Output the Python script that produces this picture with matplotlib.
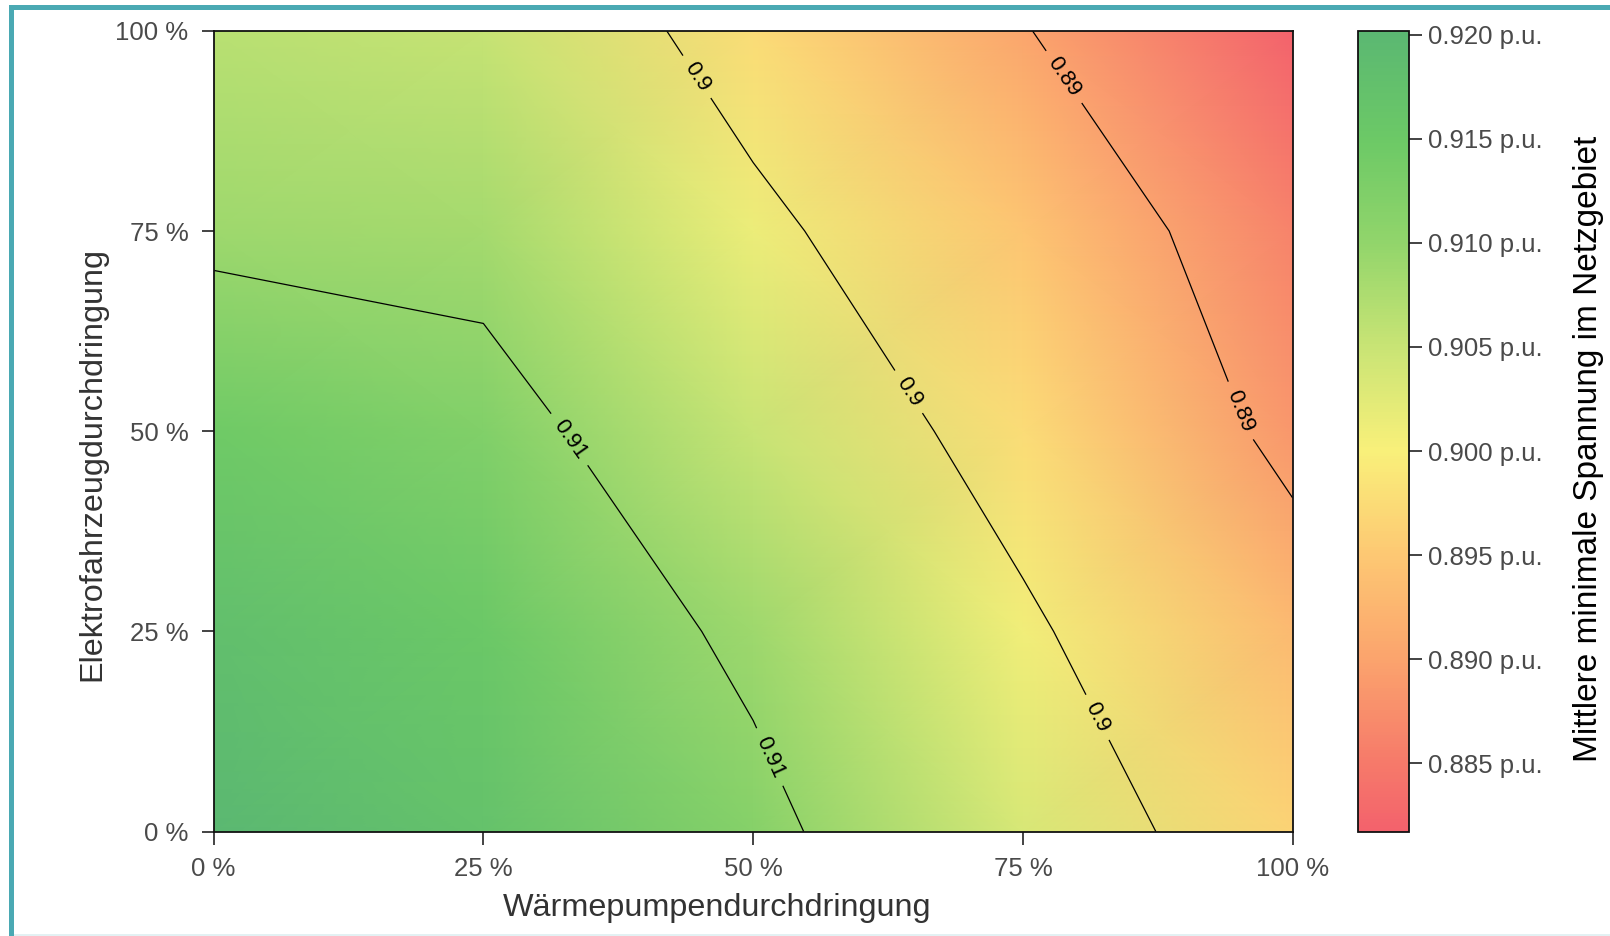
import numpy as np
import matplotlib
matplotlib.use("Agg")
import matplotlib.pyplot as plt
from matplotlib.colors import LinearSegmentedColormap, Normalize
from matplotlib.patches import Rectangle

# ---- data ----
hp_pen = [0, 25, 50, 75, 100]          # Wärmepumpendurchdringung (%)
ev_pen = [0, 25, 50, 75, 100]          # Elektrofahrzeugdurchdringung (%)
v_ev0 = [0.9200, 0.9170, 0.9115, 0.9035, 0.8964]
v_ev25 = [0.9180, 0.9151, 0.9088, 0.9009, 0.8930]
v_ev50 = [0.9145, 0.9121, 0.9051, 0.8975, 0.8885]
v_ev75 = [0.9089, 0.9082, 0.9013, 0.8945, 0.8862]
v_ev100 = [0.9065, 0.9053, 0.8975, 0.8903, 0.8818]
contour_levels = [0.89, 0.90, 0.91]
cbar_ticks = [0.885, 0.890, 0.895, 0.900, 0.905, 0.910, 0.915, 0.920]
x_ticks = [0, 25, 50, 75, 100]
y_ticks = [0, 25, 50, 75, 100]

plt.rcParams['font.family'] = ['Liberation Sans', 'DejaVu Sans']

Z = np.array([v_ev0, v_ev25, v_ev50, v_ev75, v_ev100])
X, Y = np.meshgrid(hp_pen, ev_pen)

vmin, vmax = 0.8817, 0.9202
stops = [(0.8817, '#f3626c'), (0.885, '#f67a6a'), (0.890, '#fba46d'),
         (0.895, '#fdc873'), (0.900, '#f9f07a'), (0.905, '#c9e475'),
         (0.910, '#92d56b'), (0.915, '#6cc966'), (0.9202, '#5bb872')]
cmap = LinearSegmentedColormap.from_list(
    'volt', [((v - vmin) / (vmax - vmin), c) for v, c in stops])
norm = Normalize(vmin=vmin, vmax=vmax)

W, H = 1610, 936
fig = plt.figure(figsize=(W / 100, H / 100), dpi=100)
fig.patch.set_facecolor('white')

ax = fig.add_axes([213.6 / W, 1 - 831.7 / H, (1292.7 - 213.6) / W, (831.7 - 30.8) / H])
cax = fig.add_axes([1357.5 / W, 1 - 831.7 / H, (1408.5 - 1357.5) / W, (831.7 - 30.8) / H])

mesh = ax.pcolormesh(X, Y, Z, cmap=cmap, norm=norm, shading='gouraud')
cs = ax.contour(X, Y, Z, levels=contour_levels, colors='black', linewidths=0.9)
label_pos = [(33, 49), (51, 9), (44.5, 94), (64.5, 55), (81.5, 14), (78, 93.5), (96, 53)]
ax.clabel(cs, inline=True, fontsize=16, fmt='%g', manual=label_pos, inline_spacing=10)

ax.set_xlim(0, 100)
ax.set_ylim(0, 100)
ax.set_xticks(x_ticks)
ax.set_yticks(y_ticks)
ax.set_xticklabels([f"{t} %" for t in x_ticks])
ax.set_yticklabels([f"{t} %" for t in y_ticks])
ax.tick_params(axis='both', labelsize=18.5, labelcolor='#4a4a4a', length=9, width=1.2,
               color='#222222', pad=9)
for s in ax.spines.values():
    s.set_linewidth(1.3)
    s.set_color('#111111')
ax.set_xlabel('Wärmepumpendurchdringung', fontsize=23.3, color='#333333')
ax.set_ylabel('Elektrofahrzeugdurchdringung', fontsize=23.3, color='#333333')
ax.xaxis.set_label_coords(0.467, -0.077)
ax.yaxis.set_label_coords(-0.098, 0.459)

cb = fig.colorbar(mesh, cax=cax)
cb.set_ticks(cbar_ticks)
cb.set_ticklabels([f"{t:.3f} p.u." for t in cbar_ticks])
cb.ax.tick_params(labelsize=18.5, labelcolor='#4a4a4a', length=9, width=1.2, color='#222222', pad=5)
cb.outline.set_linewidth(1.3)
cb.outline.set_edgecolor('#111111')
cb.set_label('Mittlere minimale Spannung im Netzgebiet', fontsize=24, color='black')
cb.ax.yaxis.set_label_coords(4.22, 0.478)

# teal frame (top and left edges visible)
fig.patches.append(Rectangle((9 / W, 0), 5 / W, 1 - 5 / H, transform=fig.transFigure,
                             facecolor='#4aa9b3', edgecolor='none'))
fig.patches.append(Rectangle((9 / W, 1 - 10 / H), 1 - 9 / W, 5 / H, transform=fig.transFigure,
                             facecolor='#4aa9b3', edgecolor='none'))
fig.patches.append(Rectangle((14 / W, 0), 1 - 14 / W, 2 / H, transform=fig.transFigure,
                             facecolor='#e3f1f3', edgecolor='none'))

fig.savefig('out.png', dpi=100)
